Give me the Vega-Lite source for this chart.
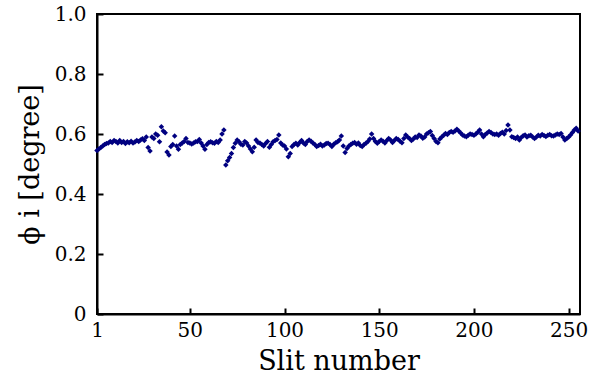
{
  "$schema": "https://vega.github.io/schema/vega-lite/v6.json",
  "width": 483,
  "height": 300,
  "autosize": "none",
  "padding": {"left": 97, "top": 14, "right": 11, "bottom": 69},
  "background": "white",
  "config": {
    "view": {"stroke": "black", "strokeWidth": 2},
    "font": "DejaVu Serif"
  },
  "data": {"values": [
{"s":1,"v":0.545},{"s":2,"v":0.55},{"s":3,"v":0.555},{"s":4,"v":0.56},{"s":5,"v":0.565},{"s":6,"v":0.568},{"s":7,"v":0.57},{"s":8,"v":0.575},{"s":9,"v":0.572},{"s":10,"v":0.578},
{"s":11,"v":0.575},{"s":12,"v":0.57},{"s":13,"v":0.578},{"s":14,"v":0.572},{"s":15,"v":0.575},{"s":16,"v":0.568},{"s":17,"v":0.574},{"s":18,"v":0.571},{"s":19,"v":0.576},{"s":20,"v":0.57},
{"s":21,"v":0.573},{"s":22,"v":0.578},{"s":23,"v":0.575},{"s":24,"v":0.58},{"s":25,"v":0.584},{"s":26,"v":0.578},{"s":27,"v":0.59},{"s":28,"v":0.555},{"s":29,"v":0.543},{"s":30,"v":0.59},
{"s":31,"v":0.585},{"s":32,"v":0.6},{"s":33,"v":0.596},{"s":34,"v":0.574},{"s":35,"v":0.624},{"s":36,"v":0.61},{"s":37,"v":0.604},{"s":38,"v":0.54},{"s":39,"v":0.53},{"s":40,"v":0.558},
{"s":41,"v":0.565},{"s":42,"v":0.593},{"s":43,"v":0.56},{"s":44,"v":0.549},{"s":45,"v":0.565},{"s":46,"v":0.57},{"s":47,"v":0.575},{"s":48,"v":0.585},{"s":49,"v":0.572},{"s":50,"v":0.57},
{"s":51,"v":0.567},{"s":52,"v":0.57},{"s":53,"v":0.574},{"s":54,"v":0.575},{"s":55,"v":0.582},{"s":56,"v":0.57},{"s":57,"v":0.56},{"s":58,"v":0.549},{"s":59,"v":0.565},{"s":60,"v":0.572},
{"s":61,"v":0.574},{"s":62,"v":0.571},{"s":63,"v":0.569},{"s":64,"v":0.575},{"s":65,"v":0.572},{"s":66,"v":0.58},{"s":67,"v":0.6},{"s":68,"v":0.613},{"s":69,"v":0.497},{"s":70,"v":0.511},
{"s":71,"v":0.522},{"s":72,"v":0.535},{"s":73,"v":0.555},{"s":74,"v":0.569},{"s":75,"v":0.58},{"s":76,"v":0.574},{"s":77,"v":0.566},{"s":78,"v":0.563},{"s":79,"v":0.575},{"s":80,"v":0.57},
{"s":81,"v":0.56},{"s":82,"v":0.55},{"s":83,"v":0.541},{"s":84,"v":0.556},{"s":85,"v":0.58},{"s":86,"v":0.572},{"s":87,"v":0.57},{"s":88,"v":0.565},{"s":89,"v":0.56},{"s":90,"v":0.568},
{"s":91,"v":0.575},{"s":92,"v":0.556},{"s":93,"v":0.565},{"s":94,"v":0.574},{"s":95,"v":0.578},{"s":96,"v":0.582},{"s":97,"v":0.597},{"s":98,"v":0.57},{"s":99,"v":0.563},{"s":100,"v":0.56},
{"s":101,"v":0.55},{"s":102,"v":0.524},{"s":103,"v":0.535},{"s":104,"v":0.558},{"s":105,"v":0.565},{"s":106,"v":0.569},{"s":107,"v":0.563},{"s":108,"v":0.572},{"s":109,"v":0.578},{"s":110,"v":0.57},
{"s":111,"v":0.565},{"s":112,"v":0.575},{"s":113,"v":0.58},{"s":114,"v":0.576},{"s":115,"v":0.57},{"s":116,"v":0.565},{"s":117,"v":0.558},{"s":118,"v":0.562},{"s":119,"v":0.566},{"s":120,"v":0.56},
{"s":121,"v":0.563},{"s":122,"v":0.568},{"s":123,"v":0.569},{"s":124,"v":0.565},{"s":125,"v":0.558},{"s":126,"v":0.566},{"s":127,"v":0.571},{"s":128,"v":0.574},{"s":129,"v":0.58},{"s":130,"v":0.593},
{"s":131,"v":0.56},{"s":132,"v":0.538},{"s":133,"v":0.552},{"s":134,"v":0.56},{"s":135,"v":0.565},{"s":136,"v":0.569},{"s":137,"v":0.572},{"s":138,"v":0.566},{"s":139,"v":0.57},{"s":140,"v":0.562},
{"s":141,"v":0.558},{"s":142,"v":0.565},{"s":143,"v":0.569},{"s":144,"v":0.575},{"s":145,"v":0.583},{"s":146,"v":0.6},{"s":147,"v":0.585},{"s":148,"v":0.575},{"s":149,"v":0.569},{"s":150,"v":0.575},
{"s":151,"v":0.58},{"s":152,"v":0.576},{"s":153,"v":0.57},{"s":154,"v":0.578},{"s":155,"v":0.585},{"s":156,"v":0.58},{"s":157,"v":0.572},{"s":158,"v":0.578},{"s":159,"v":0.585},{"s":160,"v":0.582},
{"s":161,"v":0.576},{"s":162,"v":0.571},{"s":163,"v":0.585},{"s":164,"v":0.597},{"s":165,"v":0.59},{"s":166,"v":0.585},{"s":167,"v":0.578},{"s":168,"v":0.583},{"s":169,"v":0.59},{"s":170,"v":0.588},
{"s":171,"v":0.597},{"s":172,"v":0.593},{"s":173,"v":0.586},{"s":174,"v":0.59},{"s":175,"v":0.6},{"s":176,"v":0.604},{"s":177,"v":0.608},{"s":178,"v":0.595},{"s":179,"v":0.585},{"s":180,"v":0.575},
{"s":181,"v":0.571},{"s":182,"v":0.583},{"s":183,"v":0.59},{"s":184,"v":0.596},{"s":185,"v":0.602},{"s":186,"v":0.598},{"s":187,"v":0.605},{"s":188,"v":0.608},{"s":189,"v":0.606},{"s":190,"v":0.61},
{"s":191,"v":0.616},{"s":192,"v":0.61},{"s":193,"v":0.603},{"s":194,"v":0.597},{"s":195,"v":0.593},{"s":196,"v":0.591},{"s":197,"v":0.596},{"s":198,"v":0.6},{"s":199,"v":0.598},{"s":200,"v":0.596},
{"s":201,"v":0.6},{"s":202,"v":0.606},{"s":203,"v":0.613},{"s":204,"v":0.6},{"s":205,"v":0.591},{"s":206,"v":0.598},{"s":207,"v":0.603},{"s":208,"v":0.608},{"s":209,"v":0.605},{"s":210,"v":0.6},
{"s":211,"v":0.598},{"s":212,"v":0.6},{"s":213,"v":0.596},{"s":214,"v":0.602},{"s":215,"v":0.606},{"s":216,"v":0.6},{"s":217,"v":0.612},{"s":218,"v":0.63},{"s":219,"v":0.613},{"s":220,"v":0.591},
{"s":221,"v":0.588},{"s":222,"v":0.585},{"s":223,"v":0.59},{"s":224,"v":0.58},{"s":225,"v":0.588},{"s":226,"v":0.594},{"s":227,"v":0.597},{"s":228,"v":0.59},{"s":229,"v":0.594},{"s":230,"v":0.596},
{"s":231,"v":0.59},{"s":232,"v":0.585},{"s":233,"v":0.59},{"s":234,"v":0.596},{"s":235,"v":0.593},{"s":236,"v":0.598},{"s":237,"v":0.595},{"s":238,"v":0.592},{"s":239,"v":0.596},{"s":240,"v":0.598},
{"s":241,"v":0.594},{"s":242,"v":0.593},{"s":243,"v":0.597},{"s":244,"v":0.6},{"s":245,"v":0.598},{"s":246,"v":0.602},{"s":247,"v":0.59},{"s":248,"v":0.58},{"s":249,"v":0.585},{"s":250,"v":0.59},
{"s":251,"v":0.597},{"s":252,"v":0.605},{"s":253,"v":0.613},{"s":254,"v":0.619},{"s":255,"v":0.61}
  ]},
  "mark": {"type": "point", "shape": "diamond", "filled": true, "size": 30, "color": "#000080", "opacity": 1},
  "encoding": {
    "x": {
      "field": "s", "type": "quantitative",
      "scale": {"domain": [1, 256], "nice": false, "zero": false},
      "axis": {
        "values": [1, 50, 100, 150, 200, 250],
        "title": "Slit number",
        "titleFont": "DejaVu Serif", "titleFontSize": 27, "titleFontWeight": "normal", "titleColor": "black",
        "titlePadding": 8,
        "labelFont": "DejaVu Serif", "labelFontSize": 20, "labelColor": "black",
        "labelPadding": 12,
        "tickSize": -6, "tickWidth": 2, "tickColor": "black",
        "domainColor": "black", "domainWidth": 2,
        "grid": false, "labelFlush": false
      }
    },
    "y": {
      "field": "v", "type": "quantitative",
      "scale": {"domain": [0, 1], "nice": false},
      "axis": {
        "values": [0, 0.2, 0.4, 0.6, 0.8, 1.0],
        "labelExpr": "datum.value == 0 ? '0' : format(datum.value, '.1f')",
        "title": "ϕ i [degree]",
        "titleFont": "DejaVu Serif", "titleFontSize": 27, "titleFontWeight": "normal", "titleColor": "black",
        "titlePadding": 10,
        "labelFont": "DejaVu Serif", "labelFontSize": 20, "labelColor": "black",
        "labelPadding": 17,
        "tickSize": -6, "tickWidth": 2, "tickColor": "black",
        "domainColor": "black", "domainWidth": 2,
        "grid": false
      }
    }
  }
}
